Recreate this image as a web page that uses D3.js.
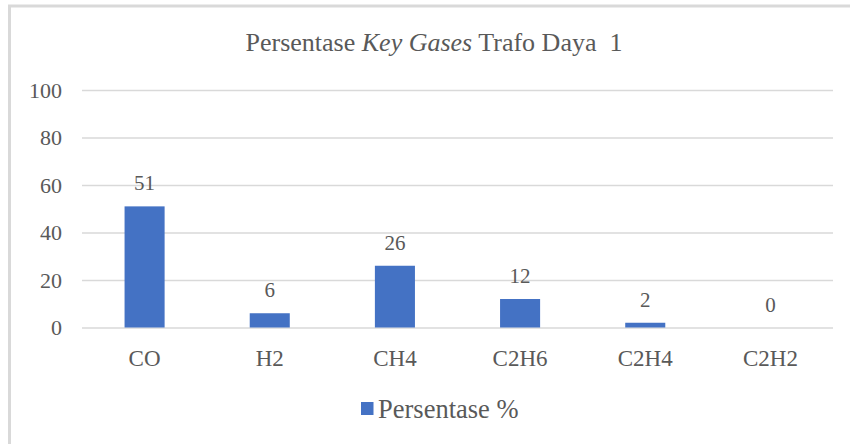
<!DOCTYPE html>
<html>
<head>
<meta charset="utf-8">
<script src="https://cdn.jsdelivr.net/npm/d3@7"></script>
<style>
	body { margin: 0; background: #fff; }
	svg text { font-family: "Liberation Serif", "Times New Roman", Times, serif !important; fill: #595959; }
</style>
</head>
<body>
<div id="chart"></div>
<script>
const categories = ["CO", "H2", "CH4", "C2H6", "C2H4", "C2H2"];
const values = [51, 6, 26, 12, 2, 0];
const yTicks = [0, 20, 40, 60, 80, 100];
const seriesName = "Persentase %";

const w = 850, h = 444;
const barColor = "#4472C4", gridColor = "#d9d9d9";

let svg = d3.select("#chart").append("svg")
	.attr("width", w)
	.attr("height", h);

// chart border (right and bottom fall outside the picture)
svg.append("rect")
	.attr("x", 9.5).attr("y", 6)
	.attr("width", 900).attr("height", 500)
	.attr("fill", "none")
	.attr("stroke", gridColor)
	.attr("stroke-width", 3);

let x = d3.scaleBand()
	.domain(categories)
	.range([82, 833])
	.paddingInner(0.68)
	.paddingOuter(0.34);

let y = d3.scaleLinear()
	.domain([0, 100])
	.range([327.5, 90]);

// title
let title = svg.append("text")
	.attr("x", 434)
	.attr("y", 51)
	.attr("text-anchor", "middle")
	.style("font-size", "26px");
title.append("tspan").text("Persentase ");
title.append("tspan").style("font-style", "italic").text("Key Gases");
title.append("tspan").text(" Trafo Daya\u00a0 1");

// gridlines + y labels
let yAxis = d3.axisLeft(y)
	.tickValues(yTicks)
	.tickSize(-(833 - 82))
	.tickPadding(20);

let yg = svg.append("g")
	.attr("transform", "translate(82,0)")
	.call(yAxis);
yg.select(".domain").remove();
yg.selectAll(".tick line").attr("stroke", gridColor).attr("stroke-width", 1.3);
yg.selectAll(".tick text")
	.attr("fill", "#595959")
	.style("font-size", "22px");

// x labels
let xg = svg.append("g")
	.attr("transform", "translate(0," + y(0) + ")")
	.call(d3.axisBottom(x).tickSize(0).tickPadding(22));
xg.select(".domain").remove();
xg.selectAll(".tick text")
	.attr("fill", "#595959")
	.attr("dy", "0.71em")
	.style("font-size", "23px");

// bars
svg.selectAll("rect.bar")
	.data(values)
	.enter().append("rect")
	.attr("class", "bar")
	.attr("x", (d, i) => x(categories[i]))
	.attr("y", (d) => y(d))
	.attr("width", x.bandwidth())
	.attr("height", (d) => y(0) - y(d))
	.attr("fill", barColor);

// data labels
svg.selectAll("text.val")
	.data(values)
	.enter().append("text")
	.attr("class", "val")
	.attr("x", (d, i) => x(categories[i]) + x.bandwidth() / 2)
	.attr("y", (d) => y(d) - 16)
	.attr("text-anchor", "middle")
	.style("font-size", "21px")
	.text((d) => d);

// legend
svg.append("rect")
	.attr("x", 361).attr("y", 402)
	.attr("width", 12.5).attr("height", 13)
	.attr("fill", barColor);
svg.append("text")
	.attr("x", 378)
	.attr("y", 418)
	.style("font-size", "26.5px")
	.text(seriesName);
</script>
</body>
</html>
